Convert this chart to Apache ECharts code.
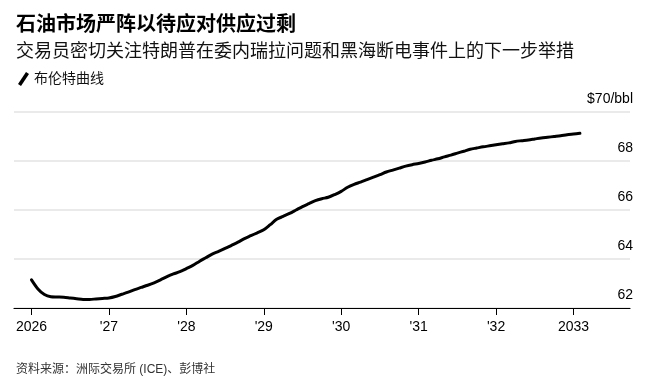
<!DOCTYPE html>
<html>
<head>
<meta charset="utf-8">
<script src="https://cdn.jsdelivr.net/npm/echarts@6/dist/echarts.min.js"></script>
<style>
html,body{margin:0;padding:0;background:#fff;}
#chart{width:657px;height:382px;}
</style>
</head>
<body>
<div id="chart"></div>
<script>
const months = [
'2026-01','2026-02','2026-03','2026-04','2026-05','2026-06','2026-07','2026-08','2026-09','2026-10','2026-11','2026-12',
'2027-01','2027-02','2027-03','2027-04','2027-05','2027-06','2027-07','2027-08','2027-09','2027-10','2027-11','2027-12',
'2028-01','2028-02','2028-03','2028-04','2028-05','2028-06','2028-07','2028-08','2028-09','2028-10','2028-11','2028-12',
'2029-01','2029-02','2029-03','2029-04','2029-05','2029-06','2029-07','2029-08','2029-09','2029-10','2029-11','2029-12',
'2030-01','2030-02','2030-03','2030-04','2030-05','2030-06','2030-07','2030-08','2030-09','2030-10','2030-11','2030-12',
'2031-01','2031-02','2031-03','2031-04','2031-05','2031-06','2031-07','2031-08','2031-09','2031-10','2031-11','2031-12',
'2032-01','2032-02','2032-03','2032-04','2032-05','2032-06','2032-07','2032-08','2032-09','2032-10','2032-11','2032-12',
'2033-01','2033-02'
];
const brent = [
63.15,62.78,62.55,62.46,62.45,62.44,62.41,62.38,62.35,62.35,62.37,62.39,
62.41,62.47,62.56,62.65,62.75,62.84,62.93,63.03,63.15,63.28,63.39,63.48,
63.61,63.74,63.90,64.05,64.20,64.31,64.43,64.56,64.69,64.83,64.95,65.07,
65.19,65.40,65.62,65.74,65.86,66.00,66.14,66.26,66.38,66.46,66.52,66.63,
66.76,66.93,67.05,67.14,67.24,67.34,67.44,67.55,67.63,67.71,67.79,67.85,
67.90,67.96,68.03,68.09,68.17,68.24,68.32,68.40,68.48,68.53,68.58,68.62,
68.66,68.70,68.74,68.80,68.83,68.86,68.90,68.94,68.97,69.00,69.03,69.07,
69.10,69.13
];
const yearTicks = [2026,2027,2028,2029,2030,2031,2032,2033];
const yearLabels = ['2026',"'27","'28","'29","'30","'31","'32",'2033'];
const yTicks = [62,64,66,68,70];
const yLabels = ['62','64','66','68','$70/bbl'];

const titleText = '石油市场严阵以待应对供应过剩';
const subtitleText = '交易员密切关注特朗普在委内瑞拉问题和黑海断电事件上的下一步举措';
const seriesName = '布伦特曲线';
const sourceText = '资料来源：洲际交易所 (ICE)、彭博社';

const FONT = '"Liberation Sans", "Noto Sans CJK SC", sans-serif';

function toYear(m){
  const p = m.split('-');
  return Number(p[0]) + (Number(p[1]) - 1) / 12;
}
const data = months.map((m,i)=>[toYear(m), brent[i]]);

const chart = echarts.init(document.getElementById('chart'), null, {renderer:'canvas'});
chart.setOption({
  animation:false,
  backgroundColor:'#fff',
  textStyle:{fontFamily:FONT},
  title:[
    {text:titleText, left:11, top:10, textStyle:{fontFamily:FONT, fontSize:20, fontWeight:'bold', color:'#000'}},
    {text:subtitleText, left:11, top:38, textStyle:{fontFamily:FONT, fontSize:18, fontWeight:'normal', color:'#111'}},
    {text:sourceText, left:11, top:359, textStyle:{fontFamily:FONT, fontSize:12, fontWeight:'normal', color:'#333'}}
  ],
  legend:{
    left:13, top:67,
    icon:'path://M0,12 L8,0 L11,2 L3,14 Z',
    itemWidth:11, itemHeight:14, itemGap:6,
    textStyle:{fontFamily:FONT, fontSize:14, color:'#111', padding:[0,0,0,0]},
    data:[seriesName]
  },
  grid:{left:14, right:27, top:112, bottom:74, containLabel:false},
  xAxis:{
    type:'value',
    min:2025.774, max:2033.73,
    axisLine:{show:true, lineStyle:{color:'#000', width:1.2}},
    axisTick:{show:true, customValues:yearTicks, length:7, lineStyle:{color:'#000', width:1}},
    axisLabel:{
      customValues:yearTicks,
      margin:12,
      fontFamily:FONT, fontSize:14, color:'#000',
      formatter:function(v){ const i = yearTicks.indexOf(Math.round(v)); return i>=0 ? yearLabels[i] : ''; }
    },
    splitLine:{show:false}
  },
  yAxis:{
    type:'value',
    position:'right',
    min:62, max:70, interval:2,
    axisLine:{show:false},
    axisTick:{show:false},
    axisLabel:{
      inside:true, margin:-3,
      verticalAlign:'bottom',
      padding:[0,0,6,0],
      fontFamily:FONT, fontSize:14, color:'#000',
      formatter:function(v){ const i = yTicks.indexOf(v); return i>=0 ? yLabels[i] : ''; }
    },
    splitLine:{show:true, lineStyle:{color:'#e3e3e3', width:1.5}}
  },
  series:[{
    name:seriesName,
    type:'line',
    data:data,
    showSymbol:false,
    smooth:0.3,
    itemStyle:{color:'#000'},
    lineStyle:{color:'#000', width:3, cap:'round', join:'round'}
  }]
});
</script>
</body>
</html>
